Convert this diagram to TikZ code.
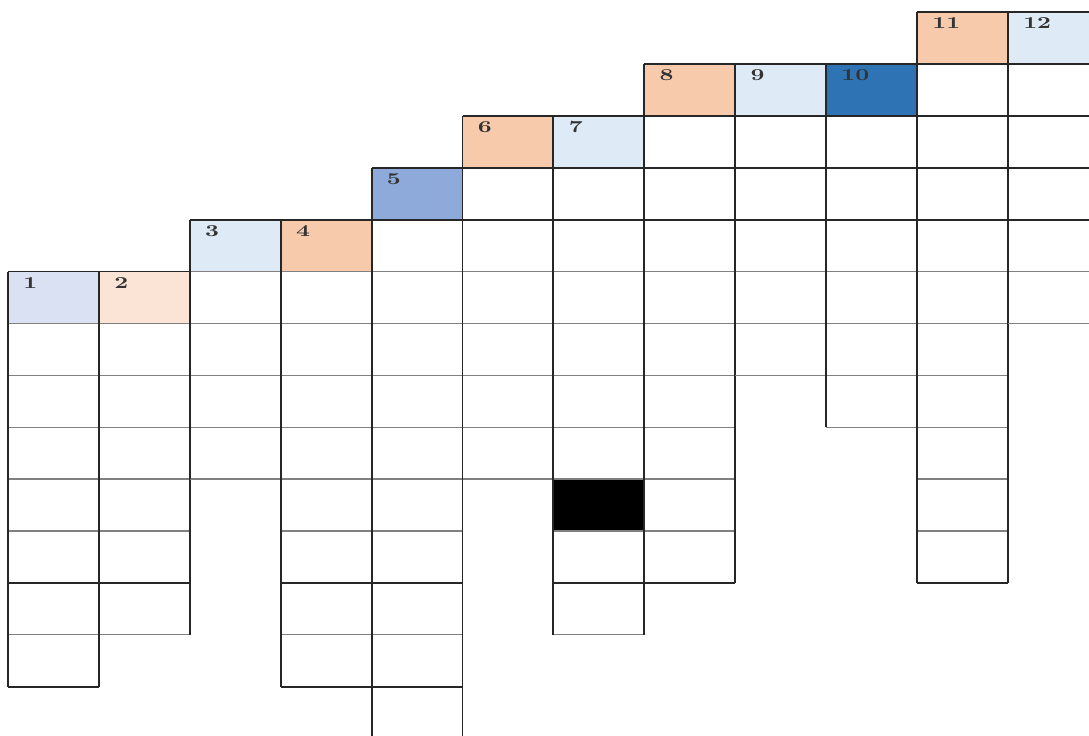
\documentclass[tikz,border=0pt]{standalone}
\usepackage{xcolor}
\usetikzlibrary{positioning}

\definecolor{lavender}{HTML}{D9E1F2}
\definecolor{peachlight}{HTML}{FBE4D5}
\definecolor{skylight}{HTML}{DEEAF6}
\definecolor{peach}{HTML}{F7CAAC}
\definecolor{bluemid}{HTML}{8EAADB}
\definecolor{bluedark}{HTML}{2E74B5}

\begin{document}
\begin{tikzpicture}[
  x=0.02cm, y=-0.02cm,
  vline/.style={line width=1.1pt, black!85},
  hline/.style={line width=0.7pt, black!50},
  hbold/.style={line width=1.1pt, black!85},
  num/.style={anchor=base west, inner sep=0pt, font=\bfseries\fontsize{9.5}{11}\selectfont, text=black!80}
]
  \useasboundingbox (0,0) rectangle (1089,735);
  \def\cw{90.9}
  \def\rh{51.9}

  % numbered cells: column / top row / colour
  \foreach \c/\t/\col in {1/5/lavender, 2/5/peachlight, 3/4/skylight, 4/4/peach,
                          5/3/bluemid, 6/2/peach, 7/2/skylight, 8/1/peach,
                          9/1/skylight, 10/1/bluedark, 11/0/peach, 12/0/skylight}
  {
    \fill[\col] ({8+(\c-1)*\cw},{12+\t*\rh}) rectangle ++(\cw,\rh);
    \node[num] (n\c) at ({8+(\c-1)*\cw+15},{12+\t*\rh+16.5}) {\scalebox{1.45}[1]{\c}};
  }
  % blocked cell
  \fill[black] ({8+6*\cw},{12+9*\rh}) rectangle ++(\cw,\rh);

  % columns: column / top row / bottom row
  \foreach \c/\t/\b in {1/5/13, 2/5/12, 3/4/9, 4/4/13, 5/3/14, 6/2/9,
                        7/2/12, 8/1/11, 9/1/7, 10/1/8, 11/0/11, 12/0/6}
  {
    \foreach \r in {\t,...,\b}
      \draw[hline] ({8+(\c-1)*\cw},{12+\r*\rh}) -- ++(\cw,0);
    \draw[vline] ({8+(\c-1)*\cw},{12+\t*\rh}) -- ({8+(\c-1)*\cw},{12+\b*\rh});
    \draw[vline] ({8+\c*\cw},{12+\t*\rh}) -- ({8+\c*\cw},{12+\b*\rh});
  }

  % dark rules: row / first edge / last edge
  \foreach \r/\a/\e in {0/10/12, 1/7/12, 2/5/12, 3/4/12, 4/2/12, 5/0/2,
                        11/0/2, 11/3/5, 11/6/8, 11/10/11, 13/0/1, 13/3/5}
    \draw[hbold] ({8+\a*\cw},{12+\r*\rh}) -- ({8+\e*\cw},{12+\r*\rh});
\end{tikzpicture}
\end{document}
